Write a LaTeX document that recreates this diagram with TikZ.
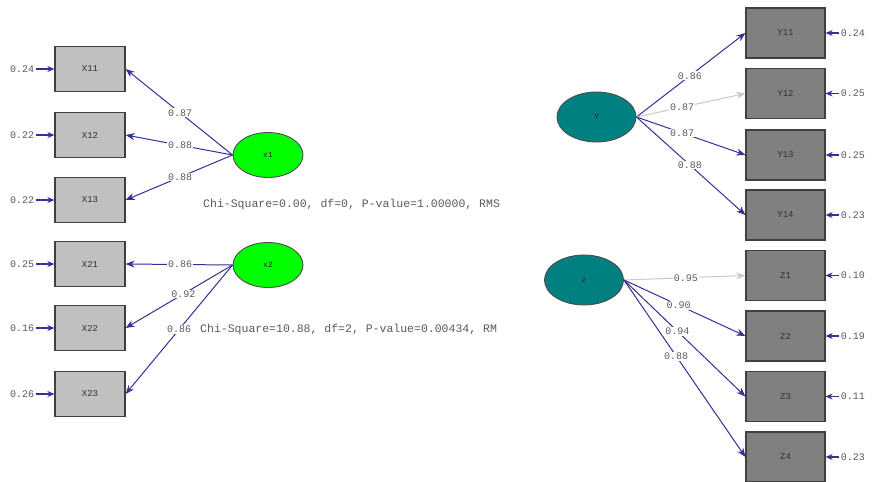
\documentclass[tikz,border=0pt]{standalone}
\usepackage{fontspec}
\setmonofont{Liberation Mono}
\usetikzlibrary{shapes.geometric,arrows.meta}
\definecolor{pathblue}{RGB}{50,50,150}
\definecolor{fadegray}{RGB}{200,200,200}
\definecolor{boxlight}{RGB}{192,192,192}
\definecolor{boxdark}{RGB}{128,128,128}
\definecolor{latgreen}{RGB}{0,255,0}
\definecolor{latteal}{RGB}{0,128,128}
\definecolor{txtgray}{RGB}{90,90,90}
\tikzset{
  obsA/.style={rectangle, draw=black!75, line width=1.2pt, fill=boxlight,
    minimum width=70pt, minimum height=45pt, inner sep=0pt,
    font=\ttfamily\fontsize{9}{9}\selectfont, text=black!80},
  obsB/.style={obsA, fill=boxdark, minimum width=79pt, minimum height=50pt},
  latA/.style={ellipse, draw=black!70, line width=0.9pt, fill=latgreen,
    minimum width=70pt, minimum height=45pt, inner sep=0pt,
    font=\ttfamily\fontsize{8}{8}\selectfont, text=black!85},
  latB/.style={latA, fill=latteal, minimum width=79pt, minimum height=50pt},
  load/.style={draw=pathblue, line width=1pt,
    -{Stealth[length=9pt,width=7pt]}},
  faint/.style={load, draw=fadegray},
  errarr/.style={draw=pathblue, line width=1.3pt,
    -{Stealth[length=7pt,width=6pt]}},
  lbl/.style={fill=white, inner sep=1pt, text=txtgray,
    font=\ttfamily\fontsize{10}{10}\selectfont},
  errlbl/.style={inner sep=0pt, text=txtgray,
    font=\ttfamily\fontsize{10}{10}\selectfont},
  fitlbl/.style={inner sep=0pt, anchor=west, text=txtgray,
    font=\ttfamily\fontsize{11.5}{11.5}\selectfont}
}
\begin{document}
\begin{tikzpicture}[x=1pt,y=-1pt]
\useasboundingbox[fill=white] (0,0) rectangle (873,482);

% ---- left block: x1 and x2 ----
\node[obsA] (X11) at (90,69) {X11};
\node[obsA] (X12) at (90,135) {X12};
\node[obsA] (X13) at (90,200) {X13};
\node[obsA] (X21) at (90,264) {X21};
\node[obsA] (X22) at (90,328) {X22};
\node[obsA] (X23) at (90,394) {X23};

\node[latA] (x1) at (268,155) {x1};
\node[latA] (x2) at (268,265) {x2};

\draw[load] (x1.west) -- node[lbl,pos=.49] {0.87} (X11.east);
\draw[load] (x1.west) -- node[lbl,pos=.49] {0.88} (X12.east);
\draw[load] (x1.west) -- node[lbl,pos=.49] {0.88} (X13.east);
\draw[load] (x2.west) -- node[lbl,pos=.49] {0.86} (X21.east);
\draw[load] (x2.west) -- node[lbl,pos=.46] {0.92} (X22.east);
\draw[load] (x2.west) -- node[lbl,pos=.50] {0.86} (X23.east);

\foreach \b/\v in {X11/0.24,X12/0.22,X13/0.22,X21/0.25,X22/0.16,X23/0.26}{
  \node[errlbl,anchor=east] (e\b) at ([xshift=-20pt]\b.west) {\v};
  \draw[errarr] (e\b.east) ++(2pt,0) -- (\b.west);
}

\node[fitlbl] (fit1) at (203,205) {Chi-Square=0.00, df=0, P-value=1.00000, RMS};
\node[fitlbl] (fit2) at (200,330) {Chi-Square=10.88, df=2, P-value=0.00434, RM};

% ---- right block: Y and z ----
\node[obsB] (Y11) at (785.5,33) {Y11};
\node[obsB] (Y12) at (785.5,93.5) {Y12};
\node[obsB] (Y13) at (785.5,155) {Y13};
\node[obsB] (Y14) at (785.5,215) {Y14};
\node[obsB] (Z1) at (785.5,275.5) {Z1};
\node[obsB] (Z2) at (785.5,336) {Z2};
\node[obsB] (Z3) at (785.5,396.5) {Z3};
\node[obsB] (Z4) at (785.5,457) {Z4};

\node[latB] (Y) at (596.5,117) {Y};
\node[latB] (z) at (584,280) {z};

\draw[load]  (Y.east) -- node[lbl,pos=.49] {0.86} (Y11.west);
\draw[faint] (Y.east) -- node[lbl,pos=.42] {0.87} (Y12.west);
\draw[load]  (Y.east) -- node[lbl,pos=.42] {0.87} (Y13.west);
\draw[load]  (Y.east) -- node[lbl,pos=.49] {0.88} (Y14.west);
\draw[faint] (z.east) -- node[lbl,pos=.51] {0.95} (Z1.west);
\draw[load]  (z.east) -- node[lbl,pos=.45] {0.90} (Z2.west);
\draw[load]  (z.east) -- node[lbl,pos=.44] {0.94} (Z3.west);
\draw[load]  (z.east) -- node[lbl,pos=.43] {0.88} (Z4.west);

\foreach \b/\v in {Y11/0.24,Y12/0.25,Y13/0.25,Y14/0.23,Z1/0.10,Z2/0.19,Z3/0.11,Z4/0.23}{
  \node[errlbl,anchor=west] (e\b) at ([xshift=15pt]\b.east) {\v};
  \draw[errarr] (e\b.west) ++(-2pt,0) -- (\b.east);
}
\end{tikzpicture}
\end{document}
